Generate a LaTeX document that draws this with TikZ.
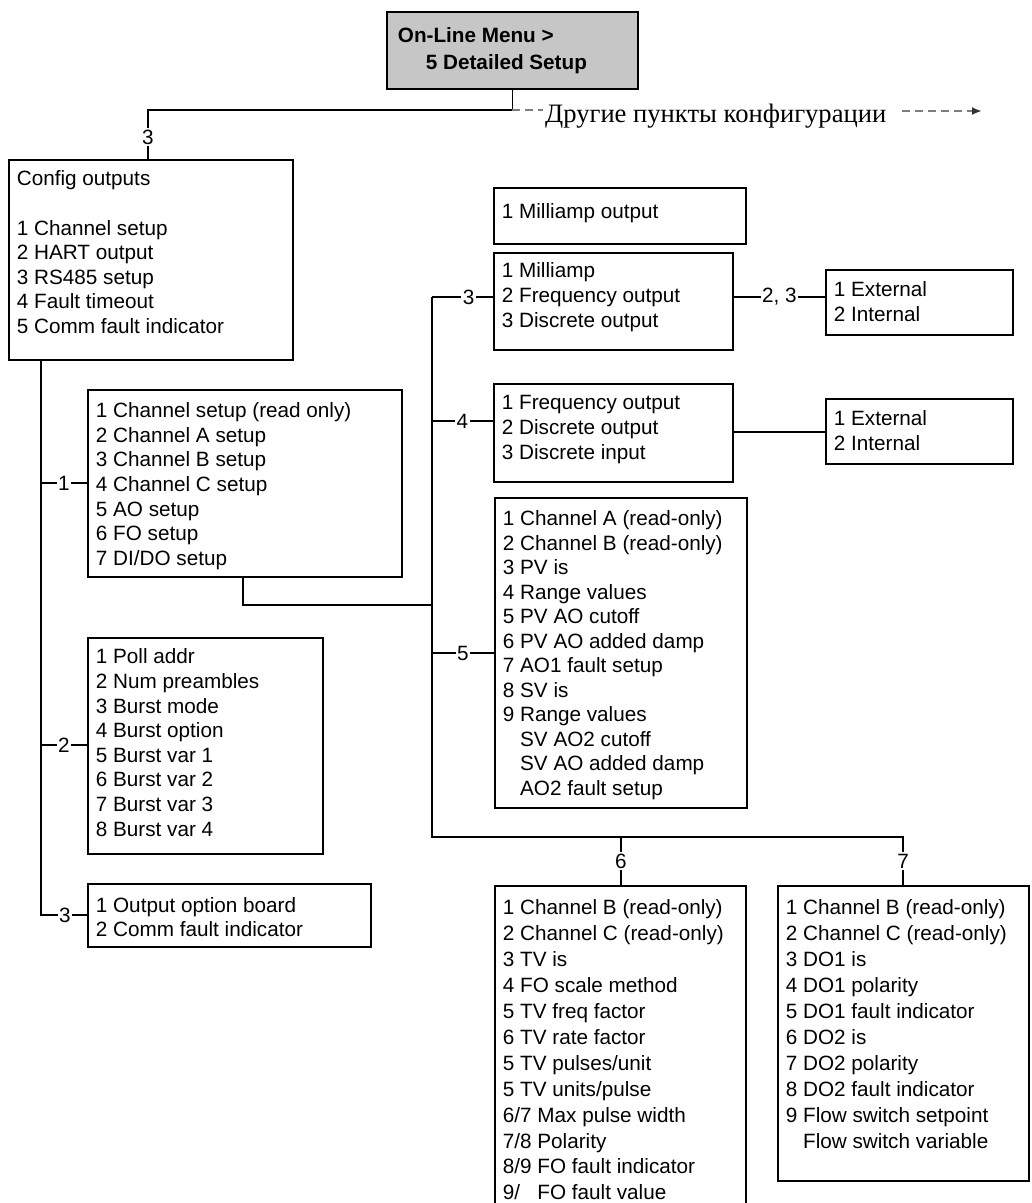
\documentclass[tikz,border=0pt]{standalone}
\usepackage{fontspec}
\setmainfont{Liberation Sans}
\newfontfamily\rufont{Liberation Serif}
\usetikzlibrary{arrows.meta}
\definecolor{boxgray}{RGB}{198,198,198}
\definecolor{dashgray}{RGB}{125,125,125}
% #1 text width, #2 text height, #3 first baseline, #4 line spacing, #5 lines
\newcommand\boxtext[5]{\fontsize{20.7}{#4}\selectfont\parbox[t][#2pt][t]{#1pt}{\raggedright\vspace*{\dimexpr #3pt-0.7\baselineskip\relax}\strut #5}}
\begin{document}
\begin{tikzpicture}[x=1pt,y=-1pt,
  box/.style={draw, line width=1.8pt, anchor=north west, inner xsep=8pt, inner ysep=0pt},
  conn/.style={line width=1.8pt},
  dashline/.style={draw=dashgray, line width=2.4pt, dash pattern=on 8pt off 5pt},
  lbl/.style={fill=white, inner sep=1.5pt, font=\fontsize{20.7}{24}\selectfont},
  ]
\useasboundingbox (0,0) rectangle (1032,1203);
\clip (0,0) rectangle (1032,1203);

% ---------- boxes ----------
\node[box, fill=boxgray, font=\bfseries] (top) at (386,11)
  {\boxtext{235}{77}{31}{26.5}{\hspace*{3pt}On-Line Menu >\\\hspace*{31pt}5 Detailed Setup}};

\node[box] (cfg) at (8,159) {\boxtext{268}{200}{26}{24.6}{Config outputs\\[24.6pt]1 Channel setup\\2 HART output\\3 RS485 setup\\4 Fault timeout\\5 Comm fault indicator}};

\node[box] (box1) at (87,389) {\boxtext{298}{187}{27.5}{24.7}{1 Channel setup (read only)\\2 Channel A setup\\3 Channel B setup\\4 Channel C setup\\5 AO setup\\6 FO setup\\7 DI/DO setup}};

\node[box] (box2) at (87,637) {\boxtext{219}{216}{26}{24.6}{1 Poll addr\\2 Num preambles\\3 Burst mode\\4 Burst option\\5 Burst var 1\\6 Burst var 2\\7 Burst var 3\\8 Burst var 4}};

\node[box] (box3) at (87,883) {\boxtext{267}{63}{28.5}{24.4}{1 Output option board\\2 Comm fault indicator}};

\node[box] (maout) at (493,187) {\boxtext{236}{56}{31}{24.5}{1 Milliamp output}};

\node[box] (boxma) at (493,252) {\boxtext{223}{97}{24.5}{24.8}{1 Milliamp\\2 Frequency output\\3 Discrete output}};

\node[box] (ext1) at (825,269) {\boxtext{171}{65}{27}{24.7}{1 External\\2 Internal}};

\node[box] (boxfo) at (493,383) {\boxtext{223}{98}{26}{25}{1 Frequency output\\2 Discrete output\\3 Discrete input}};

\node[box] (ext2) at (825,398) {\boxtext{171}{65}{27}{24.7}{1 External\\2 Internal}};

\node[box] (box5) at (494,497) {\boxtext{236}{310}{28}{24.5}{1 Channel A (read-only)\\2 Channel B (read-only)\\3 PV is\\4 Range values\\5 PV AO cutoff\\6 PV AO added damp\\7 AO1 fault setup\\8 SV is\\9 Range values\\\hphantom{9} SV AO2 cutoff\\\hphantom{9} SV AO added damp\\\hphantom{9} AO2 fault setup}};

\node[box] (box6) at (494,885) {\boxtext{235}{400}{29}{25.9}{1 Channel B (read-only)\\2 Channel C (read-only)\\3 TV is\\4 FO scale method\\5 TV freq factor\\6 TV rate factor\\5 TV pulses/unit\\5 TV units/pulse\\6/7 Max pulse width\\7/8 Polarity\\8/9 FO fault indicator\\9/\hphantom{7} FO fault value}};

\node[box] (box7) at (777,885) {\boxtext{235}{295}{29}{26}{1 Channel B (read-only)\\2 Channel C (read-only)\\3 DO1 is\\4 DO1 polarity\\5 DO1 fault indicator\\6 DO2 is\\7 DO2 polarity\\8 DO2 fault indicator\\9 Flow switch setpoint\\\hphantom{9} Flow switch variable}};

% ---------- top connectors ----------
\coordinate (j0) at (top.south |- 0,110);
\coordinate (j1) at (148,110);
\draw[conn] (top.south) -- (j0) -- (j1) -- node[lbl, pos=0.55]{3} (j1 |- cfg.north);

\node[anchor=base west, inner sep=0pt, font=\rufont\fontsize{26.6}{30}\selectfont] (other) at (545,122) {Другие пункты конфигурации};
\draw[dashline] (j0) -- ([xshift=-2pt]other.west |- j0);
\coordinate (arrstart) at (902,111);
\coordinate (arrend) at (982,111);
\draw[dashline, -{Latex[length=10pt,width=8pt,color=black!80]}] (arrstart) -- (arrend);

% ---------- left trunk ----------
\coordinate (t3) at (41,915);
\draw[conn] (cfg.south -| t3) -- (t3) -- node[lbl, pos=0.52]{3} (t3 -| box3.west);
\coordinate (t1) at (41,483);
\draw[conn] (t1) -- node[lbl]{1} (t1 -| box1.west);
\coordinate (t2) at (41,745);
\draw[conn] (t2) -- node[lbl]{2} (t2 -| box2.west);

% ---------- right trunk ----------
\coordinate (b1) at (243,605);
\coordinate (r3) at (432,297);
\coordinate (r4) at (432,421);
\coordinate (r5) at (432,653);
\coordinate (rb) at (432,837);
\coordinate (r6) at (621,837);
\coordinate (r7) at (903,837);
\draw[conn] (b1 |- box1.south) -- (b1) -- (b1 -| r3);
\draw[conn] (r3) -- (rb) -- (r7) -- node[lbl, pos=0.5]{7} (r7 |- box7.north);
\draw[conn] (r6) -- node[lbl, pos=0.5]{6} (r6 |- box6.north);
\draw[conn] (r3) -- node[lbl, pos=0.6]{3} (r3 -| boxma.west);
\draw[conn] (r4) -- node[lbl]{4} (r4 -| boxfo.west);
\draw[conn] (r5) -- node[lbl]{5} (r5 -| box5.west);
\draw[conn] (boxma.east |- r3) -- node[lbl]{2, 3} (ext1.west |- r3);
\coordinate (e2) at (780,432);
\draw[conn] (boxfo.east |- e2) -- (ext2.west |- e2);
\end{tikzpicture}
\end{document}
